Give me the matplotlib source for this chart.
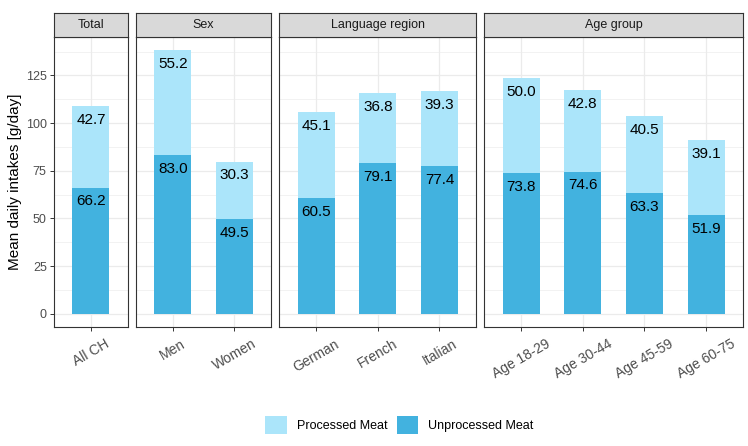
import matplotlib
matplotlib.use("Agg")
import matplotlib.pyplot as plt
from matplotlib.patches import Patch
import numpy as np

plt.rcParams['font.family'] = ['Liberation Sans', 'DejaVu Sans']

# ---- data ----
facets = ["Total", "Sex", "Language region", "Age group"]
categories = [
    ["All CH"],
    ["Men", "Women"],
    ["German", "French", "Italian"],
    ["Age 18-29", "Age 30-44", "Age 45-59", "Age 60-75"],
]
unprocessed = [
    [66.2],
    [83.0, 49.5],
    [60.5, 79.1, 77.4],
    [73.8, 74.6, 63.3, 51.9],
]
processed = [
    [42.7],
    [55.2, 30.3],
    [45.1, 36.8, 39.3],
    [50.0, 42.8, 40.5, 39.1],
]
y_ticks = [0, 25, 50, 75, 100, 125]
y_label = "Mean daily intakes [g/day]"
legend_labels = ["Processed Meat", "Unprocessed Meat"]

col_proc = "#ABE5FA"
col_unproc = "#42B2DF"
grid_col = "#EBEBEB"
border_col = "#333333"
tick_txt_col = "#4D4D4D"

W, H = 748, 446
fig = plt.figure(figsize=(W / 100, H / 100), dpi=100)

left_px, right_px = 54, 743
gap_px = 8
panel_top, panel_bot = 37, 327
strip_top = 13
units = [len(c) + 0.2 for c in categories]
unit_px = (right_px - left_px - gap_px * (len(facets) - 1)) / sum(units)

ymax_data = max(u + p for us, ps in zip(unprocessed, processed) for u, p in zip(us, ps))
ylim = (-0.05 * ymax_data, 1.05 * ymax_data)

x0 = left_px
for k, (fac, cats, us, ps) in enumerate(zip(facets, categories, unprocessed, processed)):
    wpx = units[k] * unit_px
    ax = fig.add_axes([x0 / W, 1 - panel_bot / H, wpx / W, (panel_bot - panel_top) / H])
    sax = fig.add_axes([x0 / W, 1 - panel_top / H, wpx / W, (panel_top - strip_top) / H])
    x0 += wpx + gap_px

    xs = np.arange(len(cats))
    ax.bar(xs, us, width=0.6, color=col_unproc, zorder=2)
    ax.bar(xs, ps, width=0.6, bottom=us, color=col_proc, zorder=2)
    for x, u, p in zip(xs, us, ps):
        ax.annotate(f"{u:.1f}", (x, u), xytext=(0, -10), textcoords="offset points",
                    ha="center", va="center", fontsize=11, color="black", zorder=3)
        ax.annotate(f"{p:.1f}", (x, u + p), xytext=(0, -10), textcoords="offset points",
                    ha="center", va="center", fontsize=11, color="black", zorder=3)

    ax.set_xlim(-0.6, len(cats) - 1 + 0.6)
    ax.set_ylim(*ylim)
    ax.set_axisbelow(True)
    ax.set_yticks(y_ticks)
    ax.set_yticks(np.arange(12.5, ylim[1], 25), minor=True)
    ax.grid(True, which="major", axis="both", color=grid_col, linewidth=0.9, zorder=0)
    ax.grid(True, which="minor", axis="y", color=grid_col, linewidth=0.45, zorder=0)
    ax.set_xticks(xs)
    ax.set_xticklabels(cats, rotation=30, ha="center", va="top", fontsize=10, color=tick_txt_col)
    ax.tick_params(axis="x", which="major", length=2.75, width=0.7, color=border_col, pad=4.5)
    ax.tick_params(axis="y", which="minor", length=0)
    if k == 0:
        ax.tick_params(axis="y", which="major", length=2.75, width=0.7, color=border_col,
                       pad=2.5, labelsize=9, labelcolor=tick_txt_col)
        ax.set_ylabel(y_label, fontsize=11, color="black", labelpad=3)
    else:
        ax.tick_params(axis="y", which="major", length=0, labelleft=False)
    for sp in ax.spines.values():
        sp.set_color(border_col)
        sp.set_linewidth(0.8)

    sax.set_facecolor("#D9D9D9")
    sax.set_xticks([])
    sax.set_yticks([])
    for sp in sax.spines.values():
        sp.set_color(border_col)
        sp.set_linewidth(0.8)
    sax.text(0.5, 0.5, fac, ha="center", va="center", fontsize=9, color="#1A1A1A",
             transform=sax.transAxes)

handles = [Patch(facecolor=col_proc, edgecolor="none"), Patch(facecolor=col_unproc, edgecolor="none")]
fig.legend(handles, legend_labels, loc="center", bbox_to_anchor=(399.5 / W, 1 - 425 / H),
           ncol=2, frameon=False, fontsize=9, handlelength=1.72, handleheight=1.72,
           handletextpad=0.8, columnspacing=0.75, borderpad=0)

fig.savefig("out.png", dpi=100)
